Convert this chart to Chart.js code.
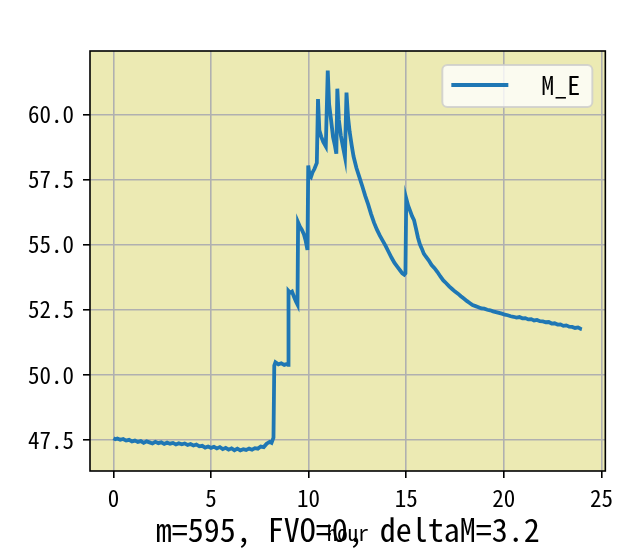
<!DOCTYPE html>
<html>
<head>
<meta charset="utf-8">
<script src="https://cdn.jsdelivr.net/npm/chart.js@4/dist/chart.umd.min.js"></script>
<style>
  body { margin: 0; background: #fff; }
  canvas { display: block; }
</style>
</head>
<body>
<canvas id="chart" width="619" height="551"></canvas>
<script>
// Data
const hours = [
    0.0, 0.1, 0.2, 0.35, 0.5, 0.65, 0.8, 0.95, 1.1, 1.25,
    1.4, 1.55, 1.7, 1.85, 2.0, 2.15, 2.3, 2.45, 2.6, 2.75,
    2.9, 3.05, 3.2, 3.35, 3.5, 3.65, 3.8, 3.95, 4.1, 4.25,
    4.4, 4.55, 4.7, 4.85, 5.0, 5.15, 5.3, 5.45, 5.6, 5.75,
    5.9, 6.05, 6.2, 6.35, 6.5, 6.65, 6.8, 6.95, 7.1, 7.25,
    7.4, 7.55, 7.7, 7.85, 8.0, 8.1, 8.2,
    8.24, 8.3, 8.45, 8.6, 8.75, 8.9, 8.95,
    8.97, 9.05, 9.15, 9.25, 9.35, 9.43,
    9.46, 9.55, 9.65, 9.75, 9.85, 9.94,
    9.98, 10.05, 10.12, 10.2, 10.3, 10.42,
    10.48, 10.55, 10.65, 10.75, 10.88,
    10.98, 11.05, 11.15, 11.25, 11.35, 11.42,
    11.47, 11.55, 11.65, 11.75, 11.86,
    11.94, 12.02, 12.1, 12.2, 12.3,
    12.45, 12.6, 12.75, 12.9, 13.05, 13.2, 13.35, 13.5, 13.65, 13.8,
    13.95, 14.1, 14.25, 14.4, 14.55, 14.7, 14.8, 14.9, 14.96,
    15.0, 15.1, 15.2, 15.3, 15.4, 15.5, 15.6, 15.7, 15.8, 15.9,
    16.0, 16.15, 16.3, 16.45, 16.6, 16.75, 16.9, 17.05, 17.2, 17.35,
    17.5, 17.65, 17.8, 17.95, 18.1, 18.25, 18.4, 18.55, 18.7, 18.85,
    19.0, 19.15, 19.3, 19.45, 19.6, 19.75, 19.9, 20.05, 20.2, 20.35,
    20.5, 20.65, 20.8, 20.95, 21.1, 21.25, 21.4, 21.55, 21.7, 21.85,
    22.0, 22.15, 22.3, 22.45, 22.6, 22.75, 22.9, 23.05, 23.2, 23.35,
    23.5, 23.65, 23.8, 23.95, 24.0
];

const mE = [
    47.56, 47.52, 47.55, 47.50, 47.53, 47.47, 47.50, 47.44, 47.47, 47.42,
    47.45, 47.38, 47.44, 47.40, 47.36, 47.42, 47.37, 47.40, 47.34, 47.39,
    47.35, 47.38, 47.32, 47.37, 47.33, 47.36, 47.30, 47.34, 47.28, 47.32,
    47.25, 47.27, 47.20, 47.24, 47.19, 47.23, 47.17, 47.22, 47.14, 47.19,
    47.12, 47.17, 47.10, 47.16, 47.09, 47.14, 47.11, 47.16, 47.12, 47.18,
    47.16, 47.24, 47.22, 47.35, 47.42, 47.38, 47.58,
    50.35, 50.48, 50.40, 50.44, 50.38, 50.42, 50.38,
    53.22, 53.15, 53.2, 53.0, 52.82, 52.7,
    55.86, 55.7, 55.58, 55.42, 55.15, 54.8,
    58.05, 57.65, 57.6, 57.78, 57.92, 58.15,
    60.6, 59.4, 59.15, 58.95, 58.78,
    61.7, 60.4, 59.8, 59.15, 58.8, 58.5,
    61.0, 59.8, 59.2, 58.8, 58.38,
    60.85, 59.9, 59.35, 58.85, 58.4,
    57.95, 57.6, 57.25, 56.88, 56.55, 56.18, 55.85, 55.58, 55.35, 55.15,
    54.95, 54.72, 54.5, 54.3, 54.15, 54.0, 53.9, 53.85, 53.9,
    56.78, 56.5, 56.3, 56.1, 55.95, 55.62, 55.28, 55.02, 54.85, 54.66,
    54.55, 54.4, 54.22, 54.1, 53.95, 53.78, 53.63, 53.52, 53.4, 53.3,
    53.2, 53.12, 53.02, 52.93, 52.84, 52.76, 52.68, 52.64, 52.6, 52.55,
    52.54, 52.5, 52.48, 52.44, 52.41, 52.38, 52.35, 52.31, 52.29, 52.25,
    52.23, 52.2, 52.22, 52.17, 52.18, 52.13, 52.14, 52.09, 52.11, 52.06,
    52.05, 52.02, 52.03, 51.97, 51.98, 51.93, 51.94, 51.88, 51.9, 51.85,
    51.84, 51.8, 51.82, 51.76, 51.75
];

const xTicks = [0, 5, 10, 15, 20, 25];
const yTicks = [47.5, 50.0, 52.5, 55.0, 57.5, 60.0];
const seriesLabel = 'M_E';
const xLabel = 'hour';
const caption = 'm=595, FVO=0, deltaM=3.2';

const FONT = '"Noto Sans Mono CJK SC", "DejaVu Sans Mono", monospace';
const LINE_COLOR = '#1f77b4';

// white page + khaki plot area
const plotBg = {
    id: 'plotBg',
    beforeDraw(chart) {
        const { ctx, chartArea: a } = chart;
        ctx.save();
        ctx.fillStyle = '#fff';
        ctx.fillRect(0, 0, chart.width, chart.height);
        ctx.fillStyle = '#ECEAB3';
        ctx.fillRect(a.left, a.top, a.right - a.left, a.bottom - a.top);
        ctx.restore();
    }
};

// spines, legend box and the caption under the axis
const overlay = {
    id: 'overlay',
    afterDraw(chart) {
        const { ctx, chartArea: a } = chart;
        ctx.save();
        ctx.strokeStyle = '#000';
        ctx.lineWidth = 1.6;
        ctx.strokeRect(a.left, a.top, a.right - a.left, a.bottom - a.top);

        // legend
        const lx = a.right - 163, ly = a.top + 14, lw = 150, lh = 42;
        ctx.beginPath();
        ctx.roundRect(lx, ly, lw, lh, 5);
        ctx.fillStyle = 'rgba(255,255,255,0.8)';
        ctx.fill();
        ctx.strokeStyle = 'rgba(204,204,204,0.8)';
        ctx.lineWidth = 2;
        ctx.stroke();
        ctx.beginPath();
        ctx.moveTo(lx + 9, ly + 20);
        ctx.lineTo(lx + 66, ly + 20);
        ctx.strokeStyle = LINE_COLOR;
        ctx.lineWidth = 3.8;
        ctx.stroke();
        ctx.fillStyle = '#000';
        ctx.font = '26px ' + FONT;
        ctx.textAlign = 'left';
        ctx.textBaseline = 'middle';
        ctx.fillText(chart.data.datasets[0].label, lx + 99, ly + 20);

        // caption
        ctx.font = '32px ' + FONT;
        ctx.textAlign = 'center';
        ctx.fillText(caption, (a.left + a.right) / 2, 530);
        ctx.restore();
    }
};

const ctx = document.getElementById('chart').getContext('2d');
new Chart(ctx, {
    type: 'line',
    data: {
        datasets: [{
            label: seriesLabel,
            data: hours.map((h, i) => ({ x: h, y: mE[i] })),
            borderColor: LINE_COLOR,
            borderWidth: 3.8,
            pointRadius: 0,
            tension: 0,
            fill: false
        }]
    },
    options: {
        responsive: false,
        animation: false,
        layout: { padding: { top: 51, right: 10, left: 0, bottom: 0 } },
        plugins: {
            legend: { display: false },
            tooltip: { enabled: false }
        },
        scales: {
            x: {
                type: 'linear',
                min: -1.2,
                max: 25.2,
                afterFit: s => { s.height = 80; },
                afterBuildTicks: s => { s.ticks = xTicks.map(v => ({ value: v })); },
                border: { display: false },
                grid: { color: '#b0b0b0', lineWidth: 1.6, tickLength: 7, tickColor: '#000', tickWidth: 1.6 },
                ticks: {
                    autoSkip: false, maxRotation: 0, padding: 6, color: '#000',
                    font: { family: FONT, size: 23 },
                    callback: v => String(v)
                },
                title: {
                    display: true, text: xLabel, color: '#000',
                    font: { family: FONT, size: 21 },
                    padding: { top: 0, bottom: 5 }
                }
            },
            y: {
                min: 46.3,
                max: 62.45,
                afterFit: s => { s.width = 90; },
                afterBuildTicks: s => { s.ticks = yTicks.map(v => ({ value: v })); },
                border: { display: false },
                grid: { color: '#b0b0b0', lineWidth: 1.6, tickLength: 7, tickColor: '#000', tickWidth: 1.6 },
                ticks: {
                    autoSkip: false, padding: 9, color: '#000',
                    font: { family: FONT, size: 23 },
                    callback: v => v.toFixed(1)
                }
            }
        }
    },
    plugins: [plotBg, overlay]
});
</script>
</body>
</html>
